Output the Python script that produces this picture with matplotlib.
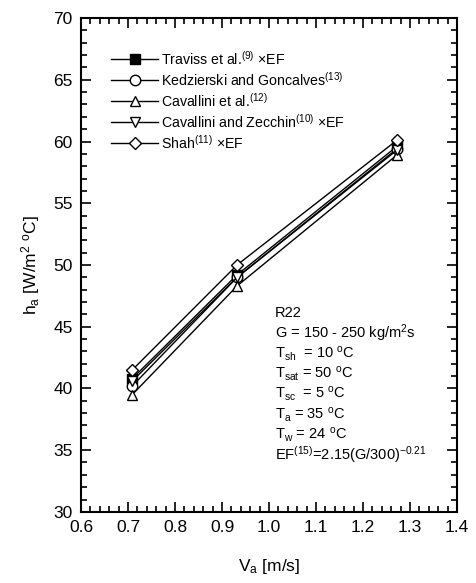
import numpy as np
import matplotlib
matplotlib.use("Agg")
import matplotlib.pyplot as plt
from matplotlib.ticker import MultipleLocator

plt.rcParams['font.family'] = ['Liberation Sans', 'DejaVu Sans']
plt.rcParams['mathtext.fontset'] = 'custom'
plt.rcParams['mathtext.rm'] = 'Liberation Sans'
plt.rcParams['mathtext.it'] = 'Liberation Sans'
plt.rcParams['mathtext.bf'] = 'Liberation Sans:bold'

# air velocity [m/s]
Va = [0.709, 0.932, 1.272]

# air side heat transfer coefficient [W/m2 C]
h_traviss = [40.8, 49.2, 59.6]
h_kedzierski = [40.2, 49.0, 59.4]
h_cavallini = [39.5, 48.3, 58.9]
h_cav_zecchin = [40.6, 49.0, 59.3]
h_shah = [41.5, 50.0, 60.1]

labels = [r'Traviss et al.$^{(9)}$ $\times$EF',
          r'Kedzierski and Goncalves$^{(13)}$',
          r'Cavallini et al.$^{(12)}$',
          r'Cavallini and Zecchin$^{(10)}$ $\times$EF',
          r'Shah$^{(11)}$ $\times$EF']

notes = ['R22',
         r'G = 150 - 250 kg/m$^2$s',
         r'T$_{\rm sh}$  = 10 $^{\rm o}$C',
         r'T$_{\rm sat}$ = 50 $^{\rm o}$C',
         r'T$_{\rm sc}$  = 5 $^{\rm o}$C',
         r'T$_{\rm a}$ = 35 $^{\rm o}$C',
         r'T$_{\rm w}$ = 24 $^{\rm o}$C',
         r'EF$^{(15)}$=2.15(G/300)$^{-0.21}$']

fig = plt.figure(figsize=(4.77, 5.83), dpi=100)
ax = fig.add_axes([0.170, 0.122, 0.788, 0.847])

series = [h_traviss, h_kedzierski, h_cavallini, h_cav_zecchin, h_shah]
markers = ['s', 'o', '^', 'v', 'D']
for y, m, lab in zip(series, markers, labels):
    fc = 'black' if m == 's' else 'white'
    ms = 6.5 if m == 'D' else 7.5
    ax.plot(Va, y, color='black', lw=1.0, marker=m, ms=ms,
            mfc=fc, mec='black', mew=1.0, label=lab)

ax.set_xlim(0.6, 1.4)
ax.set_ylim(30, 70)
ax.xaxis.set_major_locator(MultipleLocator(0.1))
ax.xaxis.set_minor_locator(MultipleLocator(0.02))
ax.yaxis.set_major_locator(MultipleLocator(5))
ax.yaxis.set_minor_locator(MultipleLocator(1))
ax.tick_params(which='both', direction='in', top=True, right=True,
               labelsize=12.5, width=1.2)
ax.tick_params(which='major', length=7, pad=6)
ax.tick_params(which='minor', length=4)
for s in ax.spines.values():
    s.set_linewidth(1.5)

ax.set_xlabel(r'V$_{\rm a}$ [m/s]', fontsize=12.5, labelpad=16)
ax.set_ylabel(r'h$_{\rm a}$ [W/m$^2$ $^{\rm o}$C]', fontsize=12.5, labelpad=8)

ax.legend(loc='upper left', bbox_to_anchor=(0.065, 0.948), frameon=False,
          fontsize=10.2, handlelength=3.3, handletextpad=0.2, labelspacing=0.22,
          borderaxespad=0)

for i, t in enumerate(notes):
    ax.text(0.516, 0.403 - i * 0.0411, t, transform=ax.transAxes,
            fontsize=10.5, va='center', ha='left')

fig.savefig('out.png', dpi=100)
